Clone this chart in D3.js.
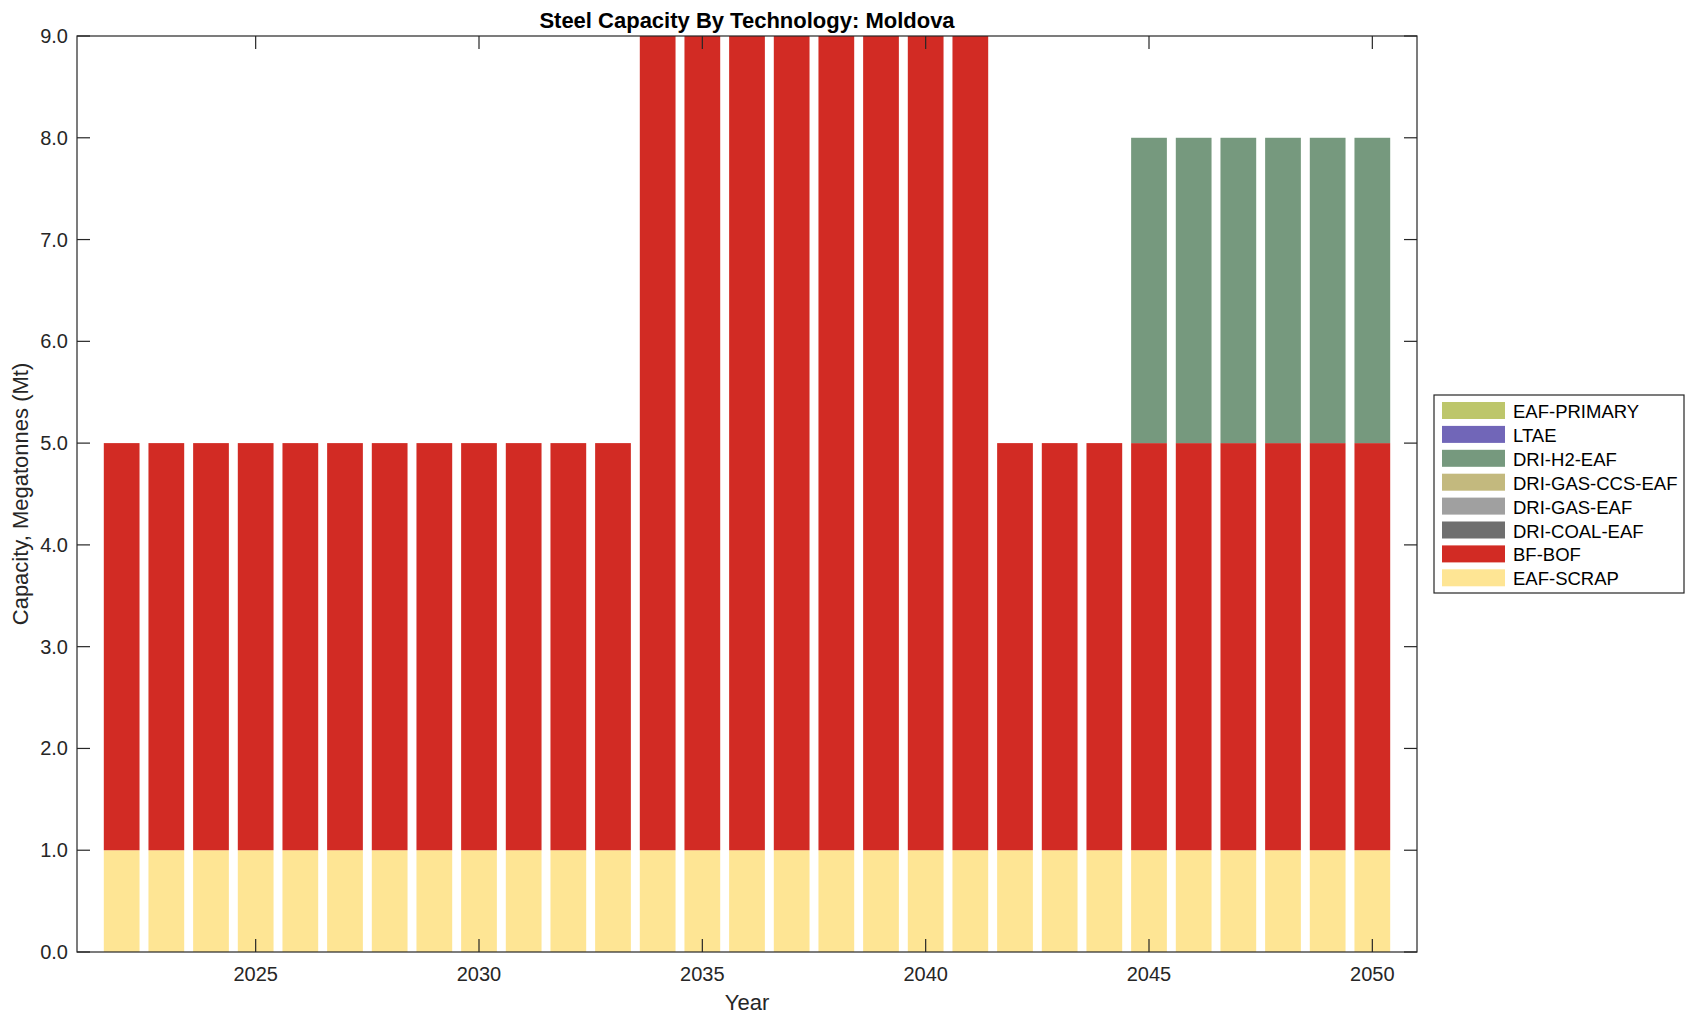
<!DOCTYPE html>
<html><head><meta charset="utf-8">
<script src="https://cdn.jsdelivr.net/npm/d3@7"></script>
<style>body{margin:0;background:#fff;} svg{display:block;font-family:"Liberation Sans",Arial,Helvetica,sans-serif;}</style>
</head><body>
<svg id="c" width="1696" height="1021"></svg>
<script>
const years = d3.range(2022, 2051);
const technologies = ["EAF-SCRAP","BF-BOF","DRI-COAL-EAF","DRI-GAS-EAF","DRI-GAS-CCS-EAF","DRI-H2-EAF","LTAE","EAF-PRIMARY"];
const colors = ["#fee594","#d22b24","#6f6f6f","#a0a0a0","#c3b97e","#76997e","#7166b8","#bdc66b"];
const eafScrap   = [1,1,1,1,1,1,1,1,1,1,1,1, 1,1,1,1,1,1,1,1, 1,1,1, 1,1,1,1,1,1];
const bfBof      = [4,4,4,4,4,4,4,4,4,4,4,4, 8,8,8,8,8,8,8,8, 4,4,4, 4,4,4,4,4,4];
const driCoalEaf = [0,0,0,0,0,0,0,0,0,0,0,0, 0,0,0,0,0,0,0,0, 0,0,0, 0,0,0,0,0,0];
const driGasEaf  = [0,0,0,0,0,0,0,0,0,0,0,0, 0,0,0,0,0,0,0,0, 0,0,0, 0,0,0,0,0,0];
const driGasCcs  = [0,0,0,0,0,0,0,0,0,0,0,0, 0,0,0,0,0,0,0,0, 0,0,0, 0,0,0,0,0,0];
const driH2Eaf   = [0,0,0,0,0,0,0,0,0,0,0,0, 0,0,0,0,0,0,0,0, 0,0,0, 3,3,3,3,3,3];
const ltae       = [0,0,0,0,0,0,0,0,0,0,0,0, 0,0,0,0,0,0,0,0, 0,0,0, 0,0,0,0,0,0];
const eafPrimary = [0,0,0,0,0,0,0,0,0,0,0,0, 0,0,0,0,0,0,0,0, 0,0,0, 0,0,0,0,0,0];
const seriesValues = [eafScrap,bfBof,driCoalEaf,driGasEaf,driGasCcs,driH2Eaf,ltae,eafPrimary];
const yTicks = [0,1,2,3,4,5,6,7,8,9];
const xTicks = [2025,2030,2035,2040,2045,2050];

const svg = d3.select("#c");
const L=77, R=1417, T=36, B=952;
const x = d3.scaleLinear().domain([2021, 2051]).range([L, R]);
const y = d3.scaleLinear().domain([0, 9]).range([B, T]);
const bw = (x(2023)-x(2022))*0.8;

const table = years.map((yr,i)=>{const o={year:yr}; technologies.forEach((t,k)=>o[t]=seriesValues[k][i]); return o;});
const stack = d3.stack().keys(technologies)(table);

svg.append("g").selectAll("g").data(stack).join("g")
  .attr("fill",(d,i)=>colors[i])
  .selectAll("rect").data(d=>d.filter(p=>p[1]-p[0]>0)).join("rect")
  .attr("x",d=>x(d.data.year)-bw/2).attr("width",bw)
  .attr("y",d=>y(d[1])).attr("height",d=>y(d[0])-y(d[1]));

const tickLen = 13;
const ax = svg.append("g").attr("stroke","#262626").attr("stroke-width",1.2);
ax.append("rect").attr("x",L).attr("y",T).attr("width",R-L).attr("height",B-T).attr("fill","none");
yTicks.forEach(v=>{
  ax.append("line").attr("x1",L).attr("x2",L+tickLen).attr("y1",y(v)).attr("y2",y(v));
  ax.append("line").attr("x1",R).attr("x2",R-tickLen).attr("y1",y(v)).attr("y2",y(v));
});
xTicks.forEach(v=>{
  ax.append("line").attr("x1",x(v)).attr("x2",x(v)).attr("y1",B).attr("y2",B-tickLen);
  ax.append("line").attr("x1",x(v)).attr("x2",x(v)).attr("y1",T).attr("y2",T+tickLen);
});
const tg = svg.append("g").attr("fill","#262626").attr("font-size",20);
yTicks.forEach(v=>{
  tg.append("text").attr("x",L-9).attr("y",y(v)).attr("text-anchor","end").attr("dominant-baseline","central").text(d3.format(".1f")(v));
});
xTicks.forEach(v=>{
  tg.append("text").attr("x",x(v)).attr("y",B+22).attr("text-anchor","middle").attr("dominant-baseline","central").text(v);
});
svg.append("text").attr("x",(L+R)/2).attr("y",20).attr("text-anchor","middle").attr("dominant-baseline","central")
  .attr("font-weight","bold").attr("font-size",22).attr("fill","#000").text("Steel Capacity By Technology: Moldova");
svg.append("text").attr("x",(L+R)/2).attr("y",1002).attr("text-anchor","middle").attr("dominant-baseline","central")
  .attr("font-size",22).attr("fill","#262626").text("Year");
svg.append("text").attr("transform",`translate(20,${(T+B)/2}) rotate(-90)`).attr("text-anchor","middle").attr("dominant-baseline","central")
  .attr("font-size",22).attr("fill","#262626").text("Capacity, Megatonnes (Mt)");

// legend
const lg = svg.append("g");
lg.append("rect").attr("x",1434).attr("y",395).attr("width",250).attr("height",198).attr("fill","#fff").attr("stroke","#262626").attr("stroke-width",1.2);
const order = technologies.map((t,i)=>i).reverse();
order.forEach((k,j)=>{
  const cy = 410.5 + j*23.9;
  lg.append("rect").attr("x",1442).attr("y",cy-8.5).attr("width",63).attr("height",17).attr("fill",colors[k]);
  lg.append("text").attr("x",1513).attr("y",cy+1).attr("dominant-baseline","central").attr("font-size",18.5).attr("fill","#000").text(technologies[k]);
});
</script>
</body></html>
